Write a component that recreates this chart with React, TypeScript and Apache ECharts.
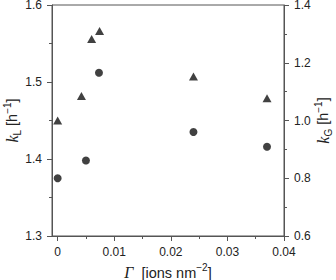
import React, { useEffect, useRef } from "react";
import * as echarts from "echarts";

const circleX = [0, 0.005, 0.0073, 0.024, 0.037];
const circleKL = [1.375, 1.398, 1.512, 1.435, 1.416];

const triangleX = [0, 0.0042, 0.006, 0.0074, 0.024, 0.037];
const triangleKG = [1.0, 1.085, 1.282, 1.31, 1.152, 1.077];

const xMajorTicks = [0, 0.01, 0.02, 0.03, 0.04];
const xMinorTicks = [0.005, 0.015, 0.025, 0.035];

const AXIS = "#555";
const TEXT = "#222";
const FONT = "Liberation Sans, Arial, sans-serif";

const nameRich = {
  i: { fontFamily: "Liberation Serif", fontStyle: "italic", fontSize: 16, color: TEXT, lineHeight: 20, verticalAlign: "middle" },
  n: { fontFamily: FONT, fontSize: 14.5, color: TEXT, lineHeight: 20, verticalAlign: "middle" },
  sub: { fontFamily: FONT, fontSize: 10, color: TEXT, lineHeight: 20, verticalAlign: "bottom" },
  sup: { fontFamily: FONT, fontSize: 10, color: TEXT, lineHeight: 20, verticalAlign: "top" },
};

export default function App() {
  const ref = useRef<HTMLDivElement>(null);
  useEffect(() => {
    if (!ref.current) return;
    const chart = echarts.init(ref.current, null, { renderer: "svg" });
    const labelStyle = { color: TEXT, fontFamily: FONT, fontSize: 12 };
    chart.setOption({
      animation: false,
      grid: {
        left: 52, right: 52, top: 5, bottom: 44,
        containLabel: false,
        outerBoundsMode: "none",
        show: true, borderColor: AXIS, borderWidth: 1, backgroundColor: "transparent",
      },
      xAxis: [
        {
          type: "value",
          min: -0.001,
          max: 0.04,
          position: "bottom",
          axisLine: { show: true, onZero: false, lineStyle: { color: AXIS, width: 1 } },
          axisTick: { show: true, length: 5, customValues: xMajorTicks, lineStyle: { color: AXIS } },
          axisLabel: {
            ...labelStyle,
            margin: 10,
            customValues: xMajorTicks,
            formatter: (v: number) => (v === 0 ? "0" : v.toFixed(2)),
          },
          splitLine: { show: false },
          name: "{i|Γ}{n|  [ions nm}{sup|−2}{n|]}",
          nameLocation: "middle",
          nameGap: 25,
          nameTextStyle: { rich: nameRich },
        },
        {
          type: "value",
          min: -0.001,
          max: 0.04,
          position: "bottom",
          axisLine: { show: false, onZero: false },
          axisTick: { show: true, length: 3, customValues: xMinorTicks, lineStyle: { color: AXIS } },
          axisLabel: { show: false },
          splitLine: { show: false },
        },
      ],
      yAxis: [
        {
          type: "value",
          min: 1.3,
          max: 1.6,
          interval: 0.1,
          position: "left",
          axisLine: { show: true, onZero: false, lineStyle: { color: AXIS } },
          axisTick: { show: true, length: 5, lineStyle: { color: AXIS } },
          minorTick: { show: true, splitNumber: 2, length: 3, lineStyle: { color: AXIS } },
          axisLabel: { ...labelStyle, margin: 10, formatter: (v: number) => v.toFixed(1) },
          splitLine: { show: false },
          name: "{i|k}{sub|L}{n| [h}{sup|−1}{n|]}",
          nameLocation: "middle",
          nameRotate: 90,
          nameGap: 30,
          nameMoveOverlap: false,
          nameTextStyle: { rich: nameRich },
        },
        {
          type: "value",
          min: 0.6,
          max: 1.4,
          interval: 0.2,
          position: "right",
          axisLine: { show: true, onZero: false, lineStyle: { color: AXIS } },
          axisTick: { show: true, length: 5, lineStyle: { color: AXIS } },
          minorTick: { show: true, splitNumber: 2, length: 3, lineStyle: { color: AXIS } },
          axisLabel: { ...labelStyle, margin: 10, formatter: (v: number) => v.toFixed(1) },
          splitLine: { show: false },
          name: "{i|k}{sub|G}{n| [h}{sup|−1}{n|]}",
          nameLocation: "middle",
          nameRotate: 90,
          nameGap: 29,
          nameMoveOverlap: false,
          nameTextStyle: { rich: nameRich },
        },
      ],
      series: [
        {
          type: "scatter",
          name: "kL",
          xAxisIndex: 0,
          yAxisIndex: 0,
          symbol: "circle",
          symbolSize: 8,
          itemStyle: { color: "#111" },
          data: circleX.map((x, i) => [x, circleKL[i]]),
        },
        {
          type: "scatter",
          name: "kG",
          xAxisIndex: 0,
          yAxisIndex: 1,
          symbol: "triangle",
          symbolSize: [9, 8],
          itemStyle: { color: "#111" },
          data: triangleX.map((x, i) => [x, triangleKG[i]]),
        },
      ],
    });
    return () => chart.dispose();
  }, []);
  return (
    <div
      ref={ref}
      style={{ position: "fixed", left: 0, top: 0, width: 336, height: 280, background: "#fff" }}
    />
  );
}
